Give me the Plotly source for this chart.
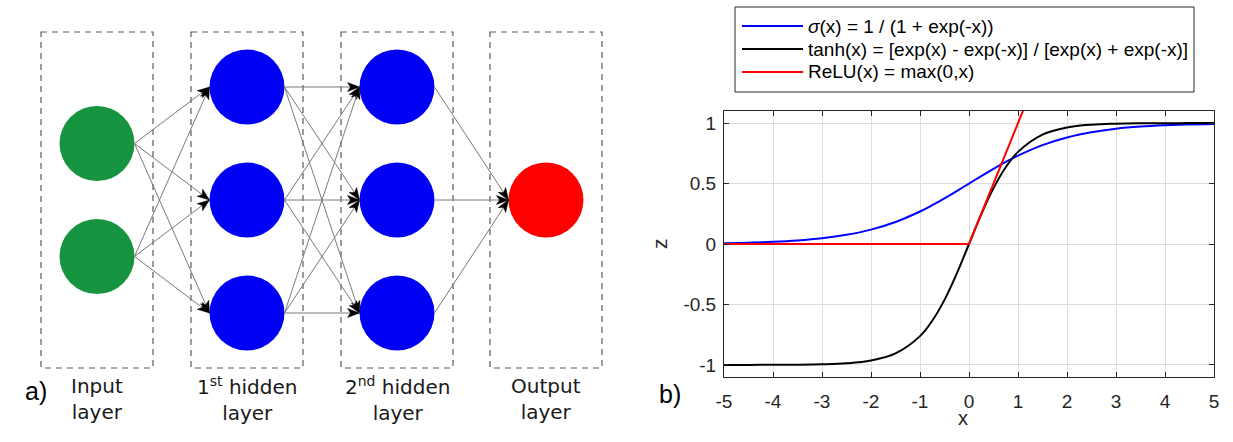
import math
import plotly.graph_objects as go

# ---------------- data: activation functions ----------------
x_vals = [-5, -4.5, -4, -3.5, -3, -2.5, -2, -1.5, -1, -0.75, -0.5, -0.25, 0,
          0.25, 0.5, 0.75, 1, 1.5, 2, 2.5, 3, 3.5, 4, 4.5, 5]
sigmoid_vals = [0.007, 0.011, 0.018, 0.029, 0.047, 0.076, 0.119, 0.182, 0.269, 0.321,
                0.378, 0.438, 0.5, 0.562, 0.622, 0.679, 0.731, 0.818, 0.881, 0.924,
                0.953, 0.971, 0.982, 0.989, 0.993]
tanh_vals = [-1.0, -1.0, -0.999, -0.998, -0.995, -0.987, -0.964, -0.905, -0.762, -0.635,
             -0.462, -0.245, 0.0, 0.245, 0.462, 0.635, 0.762, 0.905, 0.964, 0.987,
             0.995, 0.998, 0.999, 1.0, 1.0]
relu_x = [-5, 0, 1.2]
relu_vals = [0, 0, 1.2]

x_ticks = [-5, -4, -3, -2, -1, 0, 1, 2, 3, 4, 5]
x_ticktext = ["-5", "-4", "-3", "-2", "-1", "0", "1", "2", "3", "4", "5"]
y_ticks = [-1, -0.5, 0, 0.5, 1]
y_ticktext = ["-1", "-0.5", "0", "0.5", "1"]

legend_labels = ["<i>σ</i>(x) = 1 / (1 + exp(-x))",
                 "tanh(x) = [exp(x) - exp(-x)] / [exp(x) + exp(-x)]",
                 "ReLU(x) = max(0,x)"]
curve_colors = ["#0000FF", "#000000", "#FF0000"]

# ---------------- data: network diagram ----------------
layer_labels = ["Input<br>layer", "1<sup>st</sup> hidden<br>layer",
                "2<sup>nd</sup> hidden<br>layer", "Output<br>layer"]
layer_sizes = [2, 3, 3, 1]
layer_colors = ["#17943F", "#0000F5", "#0000F5", "#FF0000"]

# ---------------- layout constants ----------------
W, H = 1233, 442
def px(x):
    return x / W
def py(y):
    return 1 - y / H

layer_x = [97, 247, 397, 546]
node_gap = 113
center_y = 200
radius = 37.5
box_half_w = 56
box_top, box_bot = 32, 368

fig = go.Figure()

nodes = []
for li, n in enumerate(layer_sizes):
    ys = [center_y + (i - (n - 1) / 2) * node_gap for i in range(n)]
    nodes.append([(layer_x[li], y) for y in ys])

shapes = []
# dashed layer boxes
for lx in layer_x:
    shapes.append(dict(type="rect", xref="x2", yref="y2",
                       x0=lx - box_half_w, x1=lx + box_half_w, y0=box_top, y1=box_bot,
                       line=dict(color="#5a5a5a", width=1.2, dash="6px,5px"),
                       fillcolor="rgba(0,0,0,0)", layer="below"))

# connections with arrowheads
L_head, W_head = 12, 9
for li in range(len(nodes) - 1):
    for (sx, sy) in nodes[li]:
        for (tx, ty) in nodes[li + 1]:
            x0, y0 = sx + radius, sy
            x1, y1 = tx - radius, ty
            shapes.append(dict(type="line", xref="x2", yref="y2",
                               x0=x0, y0=y0, x1=x1, y1=y1,
                               line=dict(color="#7a7a7a", width=1)))
            d = math.hypot(x1 - x0, y1 - y0)
            ux, uy = (x1 - x0) / d, (y1 - y0) / d
            nx, ny = -uy, ux
            bx, by = x1 - L_head * ux, y1 - L_head * uy
            mx, my = x1 - 0.75 * L_head * ux, y1 - 0.75 * L_head * uy
            p = (f"M{x1},{y1} L{bx + nx * W_head / 2},{by + ny * W_head / 2} "
                 f"L{mx},{my} L{bx - nx * W_head / 2},{by - ny * W_head / 2} Z")
            shapes.append(dict(type="path", xref="x2", yref="y2", path=p,
                               fillcolor="#000000", line=dict(color="#000000", width=0.5)))

# nodes
fig.add_trace(go.Scatter(
    x=[p[0] for layer in nodes for p in layer],
    y=[p[1] for layer in nodes for p in layer],
    mode="markers", xaxis="x2", yaxis="y2", showlegend=False, hoverinfo="skip",
    marker=dict(size=2 * radius, color=[layer_colors[li] for li, layer in enumerate(nodes) for _ in layer],
                line=dict(width=0), opacity=1)))

annotations = []
for lx, lab in zip(layer_x, layer_labels):
    annotations.append(dict(x=lx, y=399, xref="x2", yref="y2", text=lab, showarrow=False,
                            font=dict(family="DejaVu Sans", size=20, color="#1a1a1a"),
                            xanchor="center", yanchor="middle", align="center"))

# ---------------- activation plot ----------------
fig.add_trace(go.Scatter(x=x_vals, y=sigmoid_vals, mode="lines", line=dict(color=curve_colors[0], width=2, shape="spline"),
                         showlegend=False, xaxis="x", yaxis="y"))
fig.add_trace(go.Scatter(x=x_vals, y=tanh_vals, mode="lines", line=dict(color=curve_colors[1], width=2, shape="spline"),
                         showlegend=False, xaxis="x", yaxis="y"))
fig.add_trace(go.Scatter(x=relu_x, y=relu_vals, mode="lines", line=dict(color=curve_colors[2], width=2),
                         showlegend=False, xaxis="x", yaxis="y"))

# custom legend box
shapes.append(dict(type="rect", xref="paper", yref="paper",
                   x0=px(735), x1=px(1194), y0=py(92), y1=py(7),
                   line=dict(color="#262626", width=1), fillcolor="white"))
for i, (lab, col) in enumerate(zip(legend_labels, curve_colors)):
    yy = 26 + i * 23
    shapes.append(dict(type="line", xref="paper", yref="paper",
                       x0=px(742), x1=px(803), y0=py(yy), y1=py(yy),
                       line=dict(color=col, width=2)))
    annotations.append(dict(x=px(806), y=py(yy), xref="paper", yref="paper", text=lab,
                            showarrow=False, xanchor="left", yanchor="middle",
                            font=dict(family="Liberation Sans, Arial", size=19, color="#000000")))

# axis titles and panel labels
annotations += [
    dict(x=px(659), y=py(244), xref="paper", yref="paper", text="z", textangle=-90, showarrow=False,
         font=dict(family="Liberation Sans, Arial", size=21, color="#262626")),
    dict(x=px(970), y=py(431), xref="paper", yref="paper", text="x", showarrow=False,
         font=dict(family="Liberation Sans, Arial", size=20, color="#262626")),
    dict(x=px(23), y=py(407), xref="paper", yref="paper", text="a)", showarrow=False,
         font=dict(family="Liberation Sans, Arial", size=25, color="#000000")),
    dict(x=px(670), y=py(410), xref="paper", yref="paper", text="b)", showarrow=False,
         font=dict(family="Liberation Sans, Arial", size=25, color="#000000")),
]

tickfont = dict(family="Liberation Sans, Arial", size=19, color="#262626")
fig.update_layout(
    width=W, height=H, margin=dict(l=0, r=0, t=0, b=0, pad=0, autoexpand=False),
    paper_bgcolor="white", plot_bgcolor="white", showlegend=False,
    xaxis=dict(domain=[px(724), px(1214)], range=[-5, 5], anchor="y", automargin=False,
               tickvals=x_ticks, ticktext=x_ticktext, ticks="inside", ticklen=5,
               tickcolor="#262626", showline=True, linecolor="#262626", linewidth=1,
               mirror="ticks", showgrid=True, gridcolor="#dedede", gridwidth=1,
               zeroline=False, tickfont=tickfont, ticklabelstandoff=7),
    yaxis=dict(domain=[py(377), py(111)], range=[-1.1, 1.1], anchor="x", automargin=False,
               tickvals=y_ticks, ticktext=y_ticktext, ticks="inside", ticklen=5,
               tickcolor="#262626", showline=True, linecolor="#262626", linewidth=1,
               mirror="ticks", showgrid=True, gridcolor="#dedede", gridwidth=1,
               zeroline=False, tickfont=tickfont, ticklabelstandoff=3),
    xaxis2=dict(domain=[0, px(640)], range=[0, 640], anchor="y2", visible=False, fixedrange=True, automargin=False),
    yaxis2=dict(domain=[0, 1], range=[H, 0], anchor="x2", visible=False, fixedrange=True, automargin=False),
    shapes=shapes, annotations=annotations,
)

fig.write_html("out.html", config={"displayModeBar": False},
               post_script="document.body.style.margin='0';document.body.style.overflow='hidden';")
